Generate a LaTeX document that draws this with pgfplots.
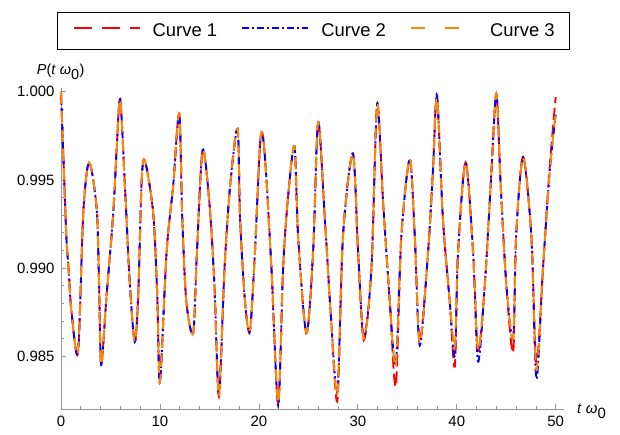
\documentclass[border=0pt]{standalone}
\usepackage{fontspec}
\setmainfont{Liberation Sans}
\usepackage{pgfplots}
\usepackage{pgfplotstable}
\pgfplotsset{compat=1.18}

\definecolor{mred}{RGB}{255,0,0}
\definecolor{mblue}{RGB}{0,0,255}
\definecolor{morange}{RGB}{255,135,0}
\definecolor{axgray}{RGB}{150,150,150}

% t, curve 1, curve 2, curve 3
\pgfplotstableread{
t     a       b       c
0.00  1.0000  1.0000  1.0000
0.23  0.9965  0.9965  0.9965
0.54  0.9918  0.9918  0.9918
0.80  0.9897  0.9897  0.9897
1.05  0.9876  0.9876  0.9876
1.72  0.9852  0.9852  0.9852
2.25  0.9931  0.9931  0.9931
2.84  0.9960  0.9960  0.9960
3.60  0.9934  0.9934  0.9934
3.84  0.9893  0.9893  0.9893
4.06  0.9845  0.9845  0.9845
4.60  0.9884  0.9884  0.9884
5.28  0.9931  0.9931  0.9931
5.63  0.9968  0.9968  0.9968
5.98  0.9996  0.9996  0.9996
6.44  0.9949  0.9949  0.9949
6.94  0.9893  0.9893  0.9893
7.45  0.9858  0.9858  0.9858
7.80  0.9884  0.9884  0.9884
8.15  0.9949  0.9949  0.9949
8.48  0.9961  0.9961  0.9961
9.32  0.9931  0.9931  0.9931
9.73  0.9884  0.9884  0.9884
10.00 0.9835  0.9835  0.9835
10.67 0.9909  0.9909  0.9909
11.34 0.9947  0.9947  0.9947
11.95 0.9988  0.9988  0.9988
12.26 0.9928  0.9928  0.9928
12.67 0.9881  0.9881  0.9881
13.36 0.9863  0.9863  0.9863
13.74 0.9909  0.9909  0.9909
14.31 0.9967  0.9967  0.9967
15.00 0.9937  0.9937  0.9937
15.51 0.9890  0.9890  0.9890
15.96 0.9827  0.9828  0.9827
16.53 0.9900  0.9900  0.9900
17.10 0.9947  0.9947  0.9947
17.85 0.9979  0.9979  0.9979
18.10 0.9928  0.9928  0.9928
18.60 0.9881  0.9881  0.9881
19.09 0.9864  0.9864  0.9864
19.60 0.9909  0.9909  0.9909
20.17 0.9974  0.9974  0.9974
20.60 0.9964  0.9964  0.9964
21.27 0.9900  0.9900  0.9900
21.95 0.9823  0.9822  0.9823
22.45 0.9900  0.9900  0.9900
22.96 0.9941  0.9941  0.9941
23.60 0.9969  0.9969  0.9969
23.97 0.9918  0.9918  0.9918
24.80 0.9863  0.9863  0.9863
25.48 0.9909  0.9909  0.9909
25.99 0.9983  0.9983  0.9983
26.67 0.9928  0.9928  0.9928
27.30 0.9871  0.9871  0.9871
27.94 0.9825  0.9830  0.9828
28.50 0.9918  0.9918  0.9918
29.50 0.9965  0.9965  0.9965
30.03 0.9909  0.9909  0.9909
30.60 0.9859  0.9861  0.9860
31.38 0.9900  0.9900  0.9900
31.95 0.9993  0.9993  0.9993
32.56 0.9937  0.9937  0.9937
33.23 0.9881  0.9881  0.9881
33.84 0.9833  0.9845  0.9844
34.40 0.9918  0.9918  0.9918
35.25 0.9961  0.9962  0.9962
35.76 0.9918  0.9918  0.9918
36.26 0.9858  0.9856  0.9857
37.10 0.9909  0.9909  0.9909
37.60 0.9956  0.9956  0.9956
38.00 0.9997  0.9998  0.9997
38.60 0.9928  0.9928  0.9928
39.29 0.9881  0.9881  0.9881
39.80 0.9844  0.9850  0.9855
40.13 0.9909  0.9909  0.9909
40.90 0.9960  0.9960  0.9960
41.65 0.9909  0.9909  0.9909
42.15 0.9853  0.9847  0.9853
42.83 0.9890  0.9890  0.9890
43.43 0.9947  0.9947  0.9947
44.00 0.9999  0.9999  0.9999
44.44 0.9947  0.9947  0.9947
45.02 0.9890  0.9890  0.9890
45.70 0.9852  0.9860  0.9860
46.00 0.9918  0.9918  0.9918
46.70 0.9963  0.9963  0.9963
47.54 0.9918  0.9918  0.9918
48.05 0.9846  0.9837  0.9842
48.72 0.9900  0.9900  0.9900
49.40 0.9958  0.9955  0.9955
50.00 0.9997  0.9987  0.9988
}\curves

\begin{document}
\begin{tikzpicture}
\begin{axis}[
    at={(0,0)}, anchor=south west,
    scale only axis,
    width=502.6bp, height=320.7bp,
    xmin=0, xmax=50.8,
    ymin=0.982, ymax=1.0002,
    axis lines*=left,
    axis line style={axgray, line width=0.8bp},
    clip=false,
    xtick={0,10,20,30,40,50},
    minor x tick num=4,
    ytick={0.985,0.990,0.995,1.000},
    minor y tick num=4,
    tick align=inside,
    tick style={axgray, line width=0.7bp},
    major tick length=5bp, minor tick length=3bp,
    scaled y ticks=false,
    tick label style={font=\fontsize{15}{17}\selectfont, black},
    /pgf/number format/assume math mode=true,
    yticklabel style={/pgf/number format/fixed, /pgf/number format/fixed zerofill,
        /pgf/number format/precision=3, xshift=-3bp},
    xticklabel style={yshift=-4bp},
    legend columns=3,
    legend style={at={(-0.0086,1.238)}, anchor=north west,
        draw=black, line width=1.5bp,
        font=\fontsize{18.5}{20}\selectfont,
        inner xsep=15bp, inner ysep=11bp,
        nodes={inner sep=0pt, text depth=0.2em},
        /tikz/every odd column/.append style={column sep=12bp},
        /tikz/every even column/.append style={column sep=24bp},
        cells={anchor=west}},
    legend image code/.code={\draw[#1, line width=2bp] (0bp,0.35em) -- (66bp,0.35em);},
]
\addplot[mred, line width=1.9bp, smooth, dash pattern=on 12bp off 5bp,
    legend image code/.code={\draw[mred, line width=2.2bp, dash pattern=on 18bp off 10bp]
        (0bp,0.35em) -- (66bp,0.35em);}]
    table[x=t, y=a] {\curves};
\addlegendentry{Curve 1}
\addplot[mblue, line width=1.9bp, smooth, dash pattern=on 8bp off 3bp on 2bp off 3bp,
    legend image code/.code={\draw[mblue, line width=2.2bp, dash pattern=on 7bp off 3bp on 2bp off 3bp]
        (0bp,0.35em) -- (66bp,0.35em);}]
    table[x=t, y=b] {\curves};
\addlegendentry{Curve 2}
\addplot[morange, line width=1.9bp, smooth, dash pattern=on 12bp off 7bp,
    legend image code/.code={\draw[morange, line width=2.2bp, dash pattern=on 14bp off 20bp]
        (0bp,0.35em) -- (66bp,0.35em);}]
    table[x=t, y=c] {\curves};
\addlegendentry{Curve 3}

\node[anchor=south east, font=\fontsize{14.5}{17}\selectfont] at (rel axis cs:0,1) [xshift=27bp, yshift=5bp]
    {\textit{P}(\textit{t} \textit{ω}$_{\textrm{0}}$)};
\node[anchor=west, font=\fontsize{15}{17}\selectfont] at (rel axis cs:1,0) [xshift=10bp, yshift=-2bp]
    {\textit{t} \textit{ω}$_{\textrm{0}}$};
\end{axis}
\pgfresetboundingbox
\useasboundingbox (-61bp,-26bp) rectangle (559bp,409bp);
\end{tikzpicture}
\end{document}
